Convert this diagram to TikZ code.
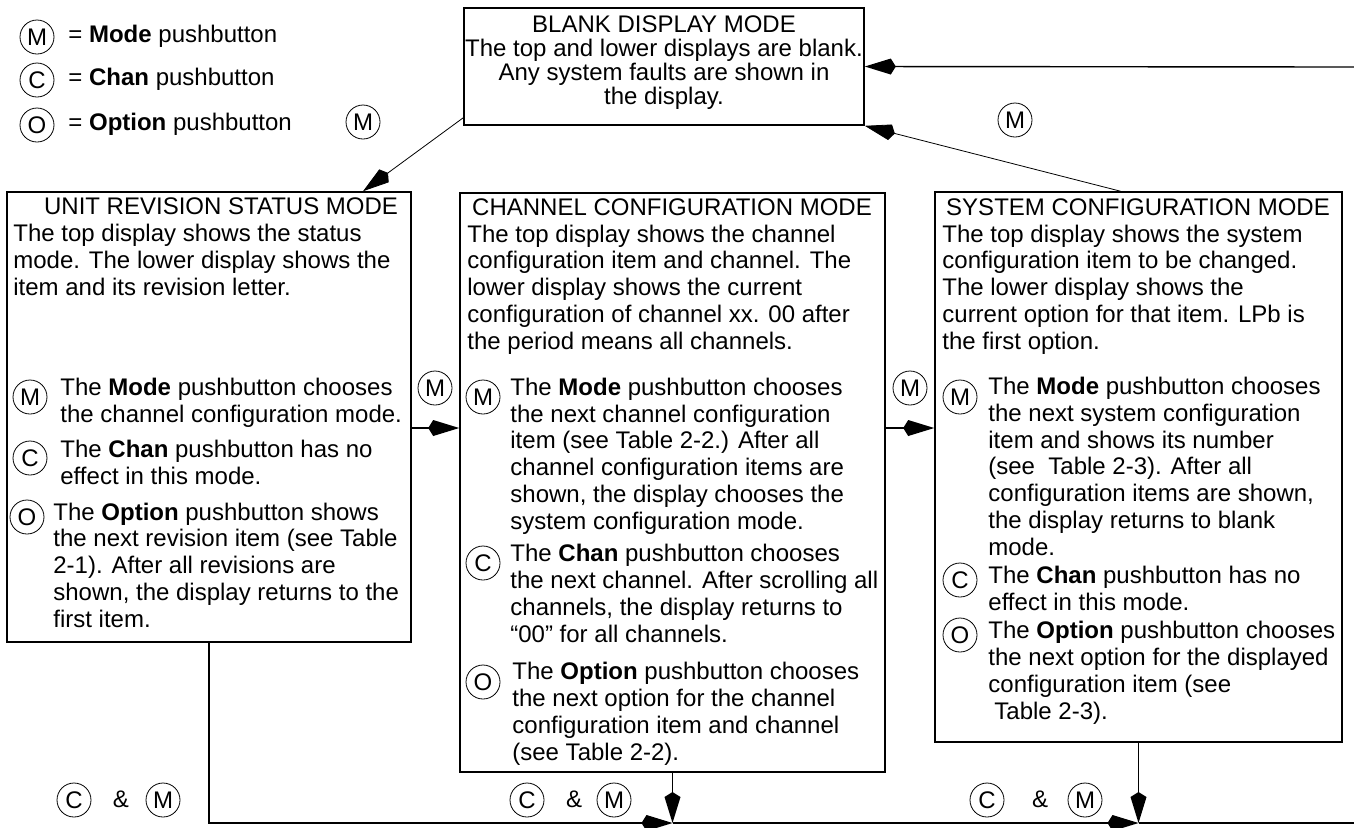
\documentclass[tikz,border=0pt]{standalone}
\usepackage{fontspec}
\setmainfont{Liberation Sans}
\usetikzlibrary{arrows.meta}

\begin{document}
\begin{tikzpicture}
        [x=0.5pt, y=-0.5pt,
        mstyle/.style={rectangle, draw, line width=0.8pt, inner sep=0pt},
        bstyle/.style={circle, draw, line width=0.4pt, inner sep=0pt, minimum size=17pt, font=\fontsize{12}{13.35}\selectfont},
        tstyle/.style={inner sep=0pt, align=left, anchor=base west, font=\fontsize{12}{13.35}\selectfont},
        hstyle/.style={inner sep=0pt, anchor=base, font=\fontsize{12}{13.35}\selectfont},
        lstyle/.style={line width=0.7pt},
        dstyle/.style={lstyle, -{Kite[length=15.5pt, width=8pt, inset=2.5pt]}},
        sstyle/.style={dstyle, line width=0.4pt}]

        \useasboundingbox (0,0) rectangle (1354,827);

        % legend
        \node[bstyle] (lm) at (37,37) {M};
        \node[tstyle] (lmtxt) at (68,42) {= \textbf{Mode} pushbutton};
        \node[bstyle] (lc) at (37,80) {C};
        \node[tstyle] (lctxt) at (68,85) {= \textbf{Chan} pushbutton};
        \node[bstyle] (lo) at (37,125) {O};
        \node[tstyle] (lotxt) at (68,130) {= \textbf{Option} pushbutton};

        % the four modes
        \node[mstyle, minimum width=200pt, minimum height=58.5pt] (blank) at (664,66.5) {};
        \node[mstyle, minimum width=202pt, minimum height=225pt] (unit) at (209,417) {};
        \node[mstyle, minimum width=212.5pt, minimum height=289.5pt] (chan) at (672.5,482.5) {};
        \node[mstyle, minimum width=203.5pt, minimum height=275pt] (sys) at (1138.5,467) {};

        % multi-line texts sit on the baseline of their last line
        \node[hstyle, align=center, font=\fontsize{12}{11.9}\selectfont] (blanktxt) at (664,104)
            {BLANK DISPLAY MODE\\The top and lower displays are blank.\\Any system faults are shown in\\the display.};

        % unit revision status
        \node[hstyle] (unithead) at (221,214) {UNIT REVISION STATUS MODE};
        \node[tstyle] (unittxt) at (13,295) {The top display shows the status\\mode. The lower display shows the\\item and its revision letter.};
        \node[bstyle] (um) at (30,397) {M};
        \node[tstyle] (umtxt) at (60,422) {The \textbf{Mode} pushbutton chooses\\the channel configuration mode.};
        \node[bstyle] (uc) at (30,458) {C};
        \node[tstyle] (uctxt) at (60,484) {The \textbf{Chan} pushbutton has no\\effect in this mode.};
        \node[bstyle] (uo) at (27,517) {O};
        \node[tstyle] (uotxt) at (53,627) {The \textbf{Option} pushbutton shows\\the next revision item (see Table\\2-1). After all revisions are\\shown, the display returns to the\\first item.};

        % channel configuration
        \node[hstyle] (chanhead) at (672,215) {CHANNEL CONFIGURATION MODE};
        \node[tstyle] (chantxt) at (467,349) {The top display shows the channel\\configuration item and channel. The\\lower display shows the current\\configuration of channel xx. 00 after\\the period means all channels.};
        \node[bstyle] (cm) at (483,397) {M};
        \node[tstyle] (cmtxt) at (510,529) {The \textbf{Mode} pushbutton chooses\\the next channel configuration\\item (see Table 2-2.) After all\\channel configuration items are\\shown, the display chooses the\\system configuration mode.};
        \node[bstyle] (cc) at (483,563) {C};
        \node[tstyle] (cctxt) at (510,642) {The \textbf{Chan} pushbutton chooses\\the next channel. After scrolling all\\channels, the display returns to\\“00” for all channels.};
        \node[bstyle] (co) at (483,682) {O};
        \node[tstyle] (cotxt) at (512,760) {The \textbf{Option} pushbutton chooses\\the next option for the channel\\configuration item and channel\\(see Table 2-2).};

        % system configuration
        \node[hstyle] (syshead) at (1138,215) {SYSTEM CONFIGURATION MODE};
        \node[tstyle] (systxt) at (942,349) {The top display shows the system\\configuration item to be changed.\\The lower display shows the\\current option for that item. LPb is\\the first option.};
        \node[bstyle] (sm) at (960,397) {M};
        \node[tstyle] (smtxt) at (988,555) {The \textbf{Mode} pushbutton chooses\\the next system configuration\\item and shows its number\\(see\ \ Table 2-3). After all\\configuration items are shown,\\the display returns to blank\\mode.};
        \node[bstyle] (sc) at (960,580) {C};
        \node[tstyle] (sctxt) at (988,610) {The \textbf{Chan} pushbutton has no\\effect in this mode.};
        \node[bstyle] (so) at (960,635) {O};
        \node[tstyle] (sotxt) at (988,719) {The \textbf{Option} pushbutton chooses\\the next option for the displayed\\configuration item (see\\\hspace*{3pt}Table 2-3).};

        % pushbutton labels on the connectors
        \node[bstyle] (m1) at (363,122) {M};
        \node[bstyle] (m2) at (1015,120) {M};
        \node[bstyle] (m3) at (435,388) {M};
        \node[bstyle] (m4) at (910,388) {M};
        \node[bstyle] (c1) at (74,800) {C};
        \node[hstyle] (and1) at (121,807) {\&};
        \node[bstyle] (m5) at (163,800) {M};
        \node[bstyle] (c2) at (527,800) {C};
        \node[hstyle] (and2) at (574,807) {\&};
        \node[bstyle] (m6) at (614,800) {M};
        \node[bstyle] (c3) at (987,800) {C};
        \node[hstyle] (and3) at (1040,807) {\&};
        \node[bstyle] (m7) at (1085,800) {M};

        % connectors
        \coordinate (row) at (0,428);
        \coordinate (rtop) at (1354,67);
        \coordinate (rbot) at (1354,823);

        \draw[sstyle] ([yshift=4pt]blank.south west) -- ([xshift=77pt]unit.north);
        \draw[sstyle] ([xshift=-9pt]sys.north) -- (blank.south east);
        \draw[dstyle] (rtop) -- (blank.east);
        \draw[dstyle] (unit.east |- row) -- (chan.west |- row);
        \draw[dstyle] (chan.east |- row) -- (sys.west |- row);
        \draw[dstyle] (chan.south) -- (chan.south |- rbot);
        \draw[dstyle] (sys.south) -- (sys.south |- rbot);
        \draw[dstyle] (unit.south) |- (chan.south |- rbot);
        \draw[dstyle] (chan.south |- rbot) -- (sys.south |- rbot);
        \draw[lstyle] (sys.south |- rbot) -- (rbot);
    \end{tikzpicture}
\end{document}
